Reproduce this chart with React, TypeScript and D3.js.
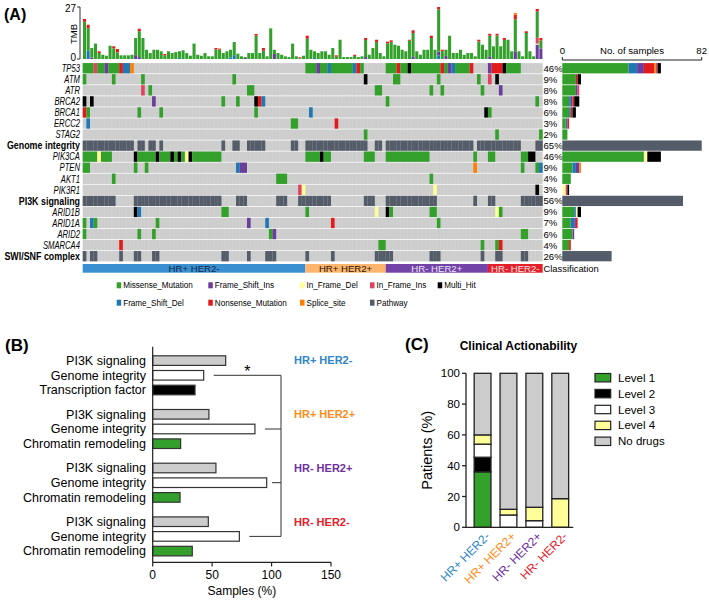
import React from "react";
import * as d3 from "d3";

const FONT = "'Liberation Sans', Arial, Helvetica, sans-serif";

// ---------------- Panel A data ----------------
const nSamples = 126;
const classNames = ["HR+ HER2-", "HR+ HER2+", "HR- HER2+", "HR- HER2-"];
const classSizes = [61, 22, 28, 15];
const classFill = ["#3a8fd0", "#fdb46c", "#7443a8", "#e3202a"];
const classInk = ["#10284a", "#2a1605", "#ece4f6", "#fbe0e0"];

const mutColor: Record<string, string> = {
  M: "#33a02c", FD: "#1f78b4", FI: "#6a3d9a", N: "#e31a1c",
  ID: "#ffff99", S: "#ff7f00", II: "#e0435d", MH: "#000000", PW: "#535c68",
};
const mutLabel: Record<string, string> = {
  M: "Missense_Mutation", FD: "Frame_Shift_Del", FI: "Frame_Shift_Ins", N: "Nonsense_Mutation",
  ID: "In_Frame_Del", S: "Splice_site", II: "In_Frame_Ins", MH: "Multi_Hit", PW: "Pathway",
};
const countOrder = ["M", "FD", "FI", "N", "ID", "S", "II", "MH"];
const tmbOrder = ["FD", "FI", "ID", "II", "M", "N", "S"];

const rowNames = ["TP53", "ATM", "ATR", "BRCA2", "BRCA1", "ERCC2", "STAG2", "Genome integrity",
  "PIK3CA", "PTEN", "AKT1", "PIK3R1", "PI3K signaling",
  "ARID1B", "ARID1A", "ARID2", "SMARCA4", "SWI/SNF complex"];
const pathwayMembers: Record<string, string[]> = {
  "Genome integrity": ["TP53", "ATM", "ATR", "BRCA2", "BRCA1", "ERCC2", "STAG2"],
  "PI3K signaling": ["PIK3CA", "PTEN", "AKT1", "PIK3R1"],
  "SWI/SNF complex": ["ARID1B", "ARID1A", "ARID2", "SMARCA4"],
};

type Run = [number, number, string];
const tp53: Run[] = [[0, 2, "M"], [3, 3, "II"], [4, 5, "M"], [6, 6, "FI"], [7, 9, "M"], [10, 10, "N"], [11, 12, "FD"], [13, 13, "S"],
  [61, 63, "M"], [64, 64, "FI"], [65, 66, "M"], [67, 67, "FD"], [68, 73, "M"], [74, 74, "FD"], [75, 75, "N"], [76, 76, "M"],
  [83, 85, "M"], [86, 86, "N"], [87, 88, "M"], [89, 89, "MH"], [90, 97, "M"], [98, 98, "N"], [99, 99, "M"], [100, 100, "FI"],
  [101, 101, "FD"], [102, 105, "M"], [106, 106, "N"], [111, 111, "FI"], [112, 114, "N"], [115, 115, "MH"], [116, 119, "M"]];
const atm: Run[] = [[0, 0, "M"], [8, 8, "M"], [16, 16, "M"], [41, 41, "M"], [77, 77, "MH"], [85, 86, "M"], [97, 97, "M"],
  [108, 108, "M"], [111, 111, "II"], [113, 113, "MH"]];
const atr: Run[] = [[16, 16, "II"], [18, 18, "M"], [45, 46, "M"], [80, 81, "M"], [95, 95, "M"], [98, 98, "M"], [109, 109, "M"], [114, 114, "FI"]];
const brca2: Run[] = [[0, 0, "MH"], [2, 2, "MH"], [19, 19, "FI"], [38, 38, "M"], [42, 42, "M"], [47, 47, "MH"], [48, 48, "N"],
  [49, 49, "FD"], [83, 83, "M"], [124, 124, "M"]];
const brca1: Run[] = [[0, 0, "N"], [1, 1, "M"], [15, 15, "M"], [21, 21, "M"], [47, 47, "M"], [62, 62, "FD"], [110, 110, "MH"], [111, 111, "M"]];
const ercc2: Run[] = [[1, 1, "FD"], [57, 58, "M"], [69, 69, "N"]];
const stag2: Run[] = [[77, 77, "M"], [113, 113, "M"], [125, 125, "M"]];
const pik3ca: Run[] = [[0, 3, "M"], [4, 4, "ID"], [5, 7, "M"], [14, 14, "MH"], [15, 19, "M"], [20, 20, "MH"], [21, 23, "M"],
  [24, 24, "MH"], [25, 25, "M"], [26, 26, "MH"], [27, 27, "M"], [28, 28, "ID"], [29, 29, "MH"], [30, 37, "M"],
  [61, 64, "M"], [65, 65, "MH"], [66, 67, "M"], [77, 79, "M"], [83, 94, "M"], [107, 107, "M"], [111, 112, "M"],
  [120, 121, "M"], [122, 123, "MH"]];
const pten: Run[] = [[0, 1, "M"], [14, 14, "M"], [17, 17, "M"], [42, 42, "FD"], [43, 44, "FI"], [107, 107, "S"],
  [120, 120, "M"], [124, 124, "M"], [125, 125, "FD"]];
const akt1: Run[] = [[8, 8, "M"], [53, 55, "M"], [95, 95, "M"]];
const pik3r1: Run[] = [[59, 59, "II"], [60, 60, "ID"], [96, 96, "ID"], [124, 124, "MH"]];
const arid1b: Run[] = [[14, 14, "MH"], [15, 15, "FD"], [38, 39, "M"], [61, 61, "M"], [80, 80, "ID"], [83, 83, "MH"],
  [84, 84, "M"], [95, 96, "M"], [113, 113, "ID"], [114, 114, "M"]];
const arid1a: Run[] = [[0, 0, "M"], [2, 2, "FD"], [3, 3, "M"], [20, 20, "M"], [45, 45, "FI"], [50, 50, "FD"], [68, 68, "N"], [97, 97, "M"]];
const arid2: Run[] = [[0, 0, "M"], [15, 15, "M"], [19, 19, "M"], [51, 51, "M"], [52, 52, "FI"], [120, 121, "M"]];
const smarca4: Run[] = [[10, 10, "N"], [81, 82, "M"], [109, 109, "M"], [113, 113, "M"], [114, 114, "N"]];

const geneRuns: Record<string, Run[]> = {
  TP53: tp53, ATM: atm, ATR: atr, BRCA2: brca2, BRCA1: brca1, ERCC2: ercc2, STAG2: stag2,
  PIK3CA: pik3ca, PTEN: pten, AKT1: akt1, PIK3R1: pik3r1,
  ARID1B: arid1b, ARID1A: arid1a, ARID2: arid2, SMARCA4: smarca4,
};

// number of samples per type, order: M, FD, FI, N, ID, S, II, MH
const geneCounts: Record<string, number[]> = {
  TP53: [39, 5, 4, 6, 0, 1, 1, 2], ATM: [8, 0, 0, 1, 0, 0, 0, 2], ATR: [8, 0, 1, 0, 0, 0, 1, 0],
  BRCA2: [4, 1, 1, 1, 0, 0, 0, 3], BRCA1: [4, 1, 0, 1, 0, 0, 0, 2], ERCC2: [2, 1, 0, 1, 0, 0, 0, 0],
  STAG2: [3, 0, 0, 0, 0, 0, 0, 0], PIK3CA: [48, 0, 0, 0, 2, 0, 0, 8], PTEN: [6, 2, 2, 0, 0, 1, 0, 0],
  AKT1: [5, 0, 0, 0, 0, 0, 0, 0], PIK3R1: [0, 0, 0, 0, 2, 0, 1, 1], ARID1B: [7, 1, 0, 0, 1, 0, 0, 2],
  ARID1A: [5, 2, 1, 1, 0, 0, 0, 0], ARID2: [6, 0, 1, 0, 0, 0, 0, 0], SMARCA4: [4, 0, 0, 1, 0, 0, 0, 0],
};
const pathwayCounts: Record<string, number> = { "Genome integrity": 82, "PI3K signaling": 71, "SWI/SNF complex": 29 };
const rowPct = [46, 9, 8, 8, 6, 3, 2, 65, 46, 9, 4, 3, 56, 9, 7, 6, 4, 26];

const tmbTotal = [
  20.8, 17.8, 5.7, 8.0, 4.0, 2.2, 1.7, 6.9, 6.6, 5.2, 1.9, 1.9, 1.9, 2.2, 10.9, 15.7, 10.9, 4.8, 3.1, 4.8,
  4.8, 4.0, 2.6, 4.0, 3.1, 3.6, 4.0, 4.5, 3.1, 1.7, 8.0, 2.2, 1.7, 3.1, 1.4, 1.4, 5.7, 5.4, 3.1, 4.0,
  4.8, 8.8, 2.8, 1.4, 1.0, 3.1, 3.1, 13.0, 3.1, 5.7, 1.4, 15.9, 4.8, 3.1, 2.2, 1.4, 1.0, 8.0, 1.4, 0.9,
  1.7, 12.1, 4.8, 4.0, 3.1, 4.0, 4.0, 2.2, 5.7, 1.9, 10.0, 1.0, 1.0, 1.0, 2.2, 1.0, 1.4, 10.9, 2.2, 5.7,
  10.0, 3.1, 1.4, 9.0, 9.7, 7.4, 6.9, 4.8, 4.0, 10.0, 14.9, 4.0, 2.2, 4.8, 4.8, 12.1, 4.8, 27, 4.8, 4.8,
  12.1, 3.1, 3.1, 4.8, 2.2, 3.1, 3.1, 1.4, 10.0, 7.4, 4.8, 13.1, 6.6, 13.1, 6.6, 10.9, 10.0, 4.0, 23.9, 4.0,
  1.4, 14.4, 4.0, 1.4, 26, 10.9,
];
// non-missense parts of the TMB bars: [sample, type, value]
const tmbOther: [number, string, number][] = [
  [0, "N", 1.5], [1, "FD", 4.5], [1, "N", 1.8], [2, "FI", 0.8], [4, "N", 0.9], [8, "N", 1.1], [9, "N", 1.8],
  [14, "FI", 2.0], [15, "N", 1.3], [15, "FI", 1.0], [22, "N", 0.8], [26, "FD", 0.6], [36, "N", 0.7], [37, "N", 0.5],
  [40, "FD", 0.8], [41, "FD", 2.0], [44, "FI", 0.5], [47, "N", 0.9], [49, "N", 1.4], [52, "FI", 2.6], [59, "N", 0.5],
  [61, "N", 1.6], [63, "FD", 0.6], [69, "N", 0.7], [74, "N", 0.6], [77, "N", 1.0], [77, "FI", 1.0], [80, "N", 1.2],
  [83, "N", 0.9], [84, "N", 0.8], [89, "N", 0.5], [90, "N", 1.4], [90, "FI", 1.4], [95, "N", 1.2], [97, "N", 1.2],
  [97, "FI", 2.0], [97, "FD", 1.8], [98, "N", 0.8], [99, "FI", 1.6], [108, "N", 0.9], [111, "N", 1.0], [111, "FI", 1.4],
  [113, "N", 0.9], [115, "N", 1.0], [118, "N", 2.4], [118, "S", 0.9], [118, "FI", 4.0], [121, "N", 0.9],
  [124, "N", 1.4], [124, "II", 3.0], [124, "ID", 0.5], [124, "FI", 7.5], [125, "N", 1.2], [125, "FI", 5.5],
];
const legendRows = [["M", "FI", "ID", "II", "MH"], ["FD", "N", "S", "PW"]];

// ---------------- Panel B data ----------------
const bGroups = ["HR+ HER2-", "HR+ HER2+", "HR- HER2+", "HR- HER2-"];
const bGroupColor = ["#2f86c8", "#ff8c1a", "#7030a0", "#e8202a"];
const bCategories = [
  ["PI3K signaling", "Genome integrity", "Transcription factor"],
  ["PI3K signaling", "Genome integrity", "Chromatin remodeling"],
  ["PI3K signaling", "Genome integrity", "Chromatin remodeling"],
  ["PI3K signaling", "Genome integrity", "Chromatin remodeling"],
];
const bValues = [[61.4, 42.9, 35.6], [47.3, 86.0, 23.5], [53.2, 95.9, 23.0], [46.8, 72.9, 33.3]];
const bFill: Record<string, string> = {
  "PI3K signaling": "#cccccc", "Genome integrity": "#ffffff",
  "Transcription factor": "#000000", "Chromatin remodeling": "#33a02c",
};
const bTicks = [0, 50, 100, 150];

// ---------------- Panel C data ----------------
const cLevels = ["Level 1", "Level 2", "Level 3", "Level 4", "No drugs"];
const cColors = ["#33a02c", "#000000", "#ffffff", "#ffff99", "#cccccc"];
const level1 = [36, 0, 0, 0];
const level2 = [9.5, 0, 0, 0];
const level3 = [8.5, 8, 4.3, 0];
const level4 = [6, 3.7, 8.7, 18.6];
const noDrugs = [40, 88.3, 87, 81.4];
const cTicks = [0, 20, 40, 60, 80, 100];

export default function App() {
  // ---------- Panel A ----------
  const x = d3.scaleBand<number>().domain(d3.range(nSamples)).range([82.7, 542.7]);
  const row = d3.scaleBand<string>().domain(rowNames).range([62.7, 261.7]).paddingInner(0.07).paddingOuter(0.035);
  const yT = d3.scaleLinear().domain([0, 27]).range([59, 7]);
  const xR = d3.scaleLinear().domain([0, 82]).range([562.3, 701.7]);
  const bw = x.bandwidth();
  const rh = row.bandwidth();
  const classStart = d3.cumsum([0, ...classSizes]);

  const tmbBars = d3.range(nSamples).flatMap((i) => {
    const parts: Record<string, number> = {};
    tmbOther.filter((d) => d[0] === i).forEach((d) => { parts[d[1]] = (parts[d[1]] || 0) + d[2]; });
    const other = d3.sum(Object.values(parts));
    parts.M = Math.max(0, tmbTotal[i] - other);
    let acc = 0;
    return tmbOrder.filter((t) => parts[t] > 0).map((t) => {
      const y0 = acc;
      acc += parts[t];
      return { i, t, y0, y1: acc };
    });
  });

  const pathwayCols = (name: string) => {
    const s = new Set<number>();
    pathwayMembers[name].forEach((g) => geneRuns[g].forEach(([a, b]) => d3.range(a, b + 1).forEach((c) => s.add(c))));
    return Array.from(s).sort((a, b) => a - b);
  };

  const legendX = [116.7, 208.3, 300, 370, 437.7];
  const legendY = [285.3, 302.7];

  // ---------- Panel B ----------
  const bx = d3.scaleLinear().domain([0, 150]).range([152.7, 331]);
  const bg = d3.scaleBand<string>().domain(bGroups).range([348.45, 563.25]);
  const bi = d3.scalePoint<number>().domain([0, 1, 2]).range([-14.7, 14.7]);
  const bh = 9.6;
  const gCenter = (g: string) => (bg(g) as number) + bg.bandwidth() / 2;
  const giY = bGroups.map((g) => gCenter(g) + (bi(1) as number));
  const bracketX = 281;

  // ---------- Panel C ----------
  const cx = d3.scaleBand<string>().domain(bGroups).range([469.5, 573.3]).paddingInner(0.35).paddingOuter(0.18);
  const cy = d3.scaleLinear().domain([0, 100]).range([527.3, 373.3]);
  const cTable = bGroups.map((g, i) => ({
    g, "Level 1": level1[i], "Level 2": level2[i], "Level 3": level3[i], "Level 4": level4[i], "No drugs": noDrugs[i],
  }));
  const cStack = d3.stack<any>().keys(cLevels)(cTable);

  return (
    <svg width={709} height={602} style={{ position: "absolute", left: 0, top: 0, background: "#fff" }}
      fontFamily={FONT}>
      {/* ======== Panel A ======== */}
      <text x={4} y={20} fontSize={16} fontWeight="bold">(A)</text>

      {/* TMB bars */}
      {tmbBars.map((d, k) => (
        <rect key={"t" + k} x={(x(d.i) as number) + 0.3} width={bw - 0.6} y={yT(d.y1)}
          height={Math.max(0, yT(d.y0) - yT(d.y1))} fill={mutColor[d.t]} />
      ))}
      <line x1={80} x2={80} y1={yT(27)} y2={yT(0)} stroke="#333" strokeWidth={1} />
      {[0, 27].map((t) => (
        <g key={"tt" + t}>
          <line x1={77} x2={80} y1={yT(t)} y2={yT(t)} stroke="#333" />
          <text x={76} y={t === 0 ? yT(t) - 2 : yT(t) + 1} dy="0.35em" textAnchor="end" fontSize={10}>{t}</text>
        </g>
      ))}
      <text transform="translate(77,34) rotate(-90)" textAnchor="middle" fontSize={9.5}>TMB</text>

      {/* grid */}
      {rowNames.map((r, ri) => {
        const y = row(r) as number;
        const isPath = !!pathwayMembers[r];
        return (
          <g key={"r" + r}>
            <rect x={82.7} y={y} width={460} height={rh} fill="#cdcdcd" />
            {d3.range(1, nSamples).map((c) => (
              <line key={c} x1={x(c)} x2={x(c)} y1={y} y2={y + rh} stroke="#d9d9d9" strokeWidth={0.4} />
            ))}
            {isPath
              ? pathwayCols(r).map((c) => (
                <rect key={"p" + c} x={x(c)} y={y} width={bw + 0.05} height={rh} fill={mutColor.PW} />
              ))
              : geneRuns[r].map(([a, b, t], k) => (
                <rect key={"m" + k} x={x(a)} y={y} width={bw * (b - a + 1)} height={rh} fill={mutColor[t]} />
              ))}
            <text transform={`translate(80,${y + rh / 2}) scale(${isPath ? 0.89 : 0.74},1)`} dy="0.36em"
              textAnchor="end" fontSize={isPath ? 10 : 10.4} fontWeight={isPath ? "bold" : "normal"}
              fontStyle={isPath ? "normal" : "italic"}>{r}</text>
            <text x={543.5} y={y + rh / 2} dy="0.36em" fontSize={9.6}>{rowPct[ri]}%</text>
            {isPath ? (
              <rect x={xR(0)} y={y} width={xR(pathwayCounts[r]) - xR(0)} height={rh} fill={mutColor.PW} />
            ) : (
              (() => {
                let acc = 0;
                return countOrder.map((t, k) => {
                  const v = geneCounts[r][k];
                  if (!v) return null;
                  const x0 = acc;
                  acc += v;
                  return <rect key={"c" + t} x={xR(x0)} y={y} width={xR(acc) - xR(x0)} height={rh} fill={mutColor[t]} />;
                });
              })()
            )}
          </g>
        );
      })}

      {/* right axis */}
      <path d={`M${xR(0)},57V60H${xR(82)}V57`} fill="none" stroke="#222" strokeWidth={1} />
      <text x={xR(0)} y={54} textAnchor="middle" fontSize={9.6}>0</text>
      <text x={xR(82)} y={54} textAnchor="middle" fontSize={9.6}>82</text>
      <text x={(xR(0) + xR(82)) / 2} y={54} textAnchor="middle" fontSize={9.6}>No. of samples</text>

      {/* classification */}
      {classNames.map((c, i) => {
        const x0 = x(classStart[i]) as number;
        const w = bw * classSizes[i];
        return (
          <g key={"cl" + c}>
            <rect x={x0} y={264} width={w} height={8.7} fill={classFill[i]} />
            <text x={x0 + w / 2} y={268.4} dy="0.36em" textAnchor="middle" fontSize={9.6} fill={classInk[i]}>{c}</text>
          </g>
        );
      })}
      <text x={543.5} y={268.4} dy="0.36em" fontSize={9.4}>Classification</text>

      {/* legend */}
      {legendRows.map((items, ri) => items.map((t, ci) => (
        <g key={"lg" + t} transform={`translate(${legendX[ci]},${legendY[ri]})`}>
          <rect x={0} y={-3} width={4.5} height={6} fill={mutColor[t]} />
          <text transform="translate(6.5,0) scale(0.9,1)" dy="0.35em" fontSize={9}>{mutLabel[t]}</text>
        </g>
      )))}

      {/* ======== Panel B ======== */}
      <text x={5} y={351} fontSize={17} fontWeight="bold">(B)</text>
      {bGroups.map((g, gi) => (
        <g key={"bg" + g}>
          {bCategories[gi].map((cat, k) => {
            const yc = gCenter(g) + (bi(k) as number);
            return (
              <g key={cat}>
                <rect x={bx(0)} y={yc - bh / 2} width={bx(bValues[gi][k]) - bx(0)} height={bh}
                  fill={bFill[cat]} stroke="#333" strokeWidth={1.2} />
                <text x={146} y={yc} dy="0.35em" textAnchor="end" fontSize={12.5}>{cat}</text>
              </g>
            );
          })}
          <text x={294} y={gCenter(g) + (bi(0) as number)} dy="0.35em" fontSize={11} fontWeight="bold"
            fill={bGroupColor[gi]}>{g}</text>
          <line x1={Math.min(bx(bValues[gi][1]) + 10, 272)} x2={bracketX} y1={giY[gi]} y2={giY[gi]}
            stroke="#333" strokeWidth={1} />
        </g>
      ))}
      <line x1={bracketX} x2={bracketX} y1={giY[0]} y2={giY[3]} stroke="#333" strokeWidth={1} />
      <text x={(Math.min(bx(bValues[0][1]) + 10, 272) + bracketX) / 2} y={giY[0] + 2} textAnchor="middle"
        fontSize={16}>*</text>
      <line x1={bx(0)} x2={bx(0)} y1={346.7} y2={562.3} stroke="#222" strokeWidth={1.2} />
      <line x1={bx(0)} x2={bx(150)} y1={562.3} y2={562.3} stroke="#222" strokeWidth={1.2} />
      {bTicks.map((t) => (
        <g key={"bt" + t}>
          <line x1={bx(t)} x2={bx(t)} y1={562.3} y2={566.5} stroke="#222" strokeWidth={1.2} />
          <text x={bx(t)} y={575} dy="0.35em" textAnchor="middle" fontSize={12}>{t}</text>
        </g>
      ))}
      <text x={bx(75)} y={591} dy="0.35em" textAnchor="middle" fontSize={12}>Samples (%)</text>

      {/* ======== Panel C ======== */}
      <text x={405} y={350} fontSize={17} fontWeight="bold">(C)</text>
      <text x={518.5} y={350} textAnchor="middle" fontSize={12} fontWeight="bold">Clinical Actionability</text>
      {cStack.map((layer, li) => layer.map((d, k) => (
        <rect key={"cs" + li + k} x={cx(bGroups[k])} width={cx.bandwidth()} y={cy(d[1])}
          height={Math.max(0, cy(d[0]) - cy(d[1]))} fill={cColors[li]}
          stroke="#222" strokeWidth={d[1] - d[0] > 0 ? 1.3 : 0} />
      )))}
      <line x1={466} x2={466} y1={cy(100)} y2={cy(0)} stroke="#222" strokeWidth={1.3} />
      <line x1={466} x2={573.3} y1={cy(0)} y2={cy(0)} stroke="#222" strokeWidth={1.3} />
      {cTicks.map((t) => (
        <g key={"ct" + t}>
          <line x1={462} x2={466} y1={cy(t)} y2={cy(t)} stroke="#222" strokeWidth={1.3} />
          <text x={460} y={cy(t)} dy="0.35em" textAnchor="end" fontSize={11.5}>{t}</text>
        </g>
      ))}
      <text transform={`translate(427,${cy(50)}) rotate(-90)`} textAnchor="middle" dy="0.35em" fontSize={14.5}>
        Patients (%)
      </text>
      {bGroups.map((g, i) => (
        <text key={"cx" + g}
          transform={`translate(${(cx(g) as number) + cx.bandwidth() / 2 + 5},${cy(0) + 7}) rotate(-45)`}
          textAnchor="end" dy="0.35em" fontSize={12} fill={bGroupColor[i]}>{g}</text>
      ))}
      {cLevels.map((l, i) => (
        <g key={"cl" + l} transform={`translate(595,${377.7 + i * 15.9})`}>
          <rect x={0} y={-4.2} width={15.7} height={8.4} fill={cColors[i]} stroke="#222" strokeWidth={1.2} />
          <text x={23} y={0} dy="0.35em" fontSize={11.5}>{l}</text>
        </g>
      ))}
    </svg>
  );
}
